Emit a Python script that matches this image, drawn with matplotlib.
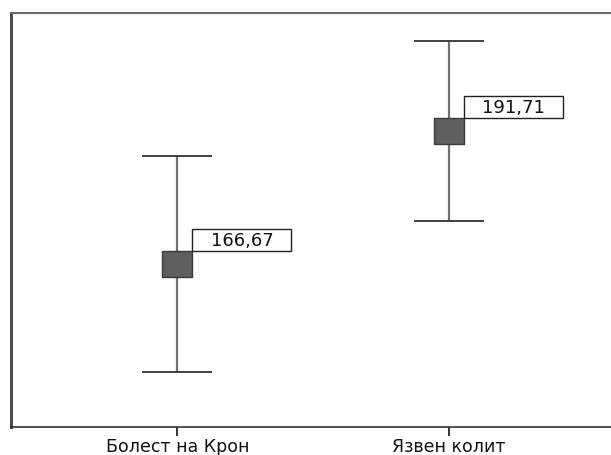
import matplotlib
matplotlib.use("Agg")
import matplotlib.pyplot as plt
from matplotlib.patches import Rectangle
from matplotlib.transforms import ScaledTranslation

# Group means with their 95% confidence limits
groups = ["Болест на Крон", "Язвен колит"]
means = [166.67, 191.71]
ci_low = [146.45, 174.80]
ci_high = [186.90, 208.50]
value_labels = ["166,67", "191,71"]

plt.rcParams["font.family"] = ["DejaVu Sans"]

DPI = 100
W, H = 611, 456
fig = plt.figure(figsize=(W / DPI, H / DPI), dpi=DPI)
ax = fig.add_axes([11 / W, 1 - 428 / H, (615.5 - 11) / W, (428 - 14) / H])

xs = list(range(len(groups)))
yerr = [[m - lo for m, lo in zip(means, ci_low)],
        [hi - m for m, hi in zip(means, ci_high)]]

eb = ax.errorbar(xs, means, yerr=yerr, fmt="none", ecolor="#707070",
                 elinewidth=1.6, capsize=25, capthick=1.3, zorder=2)
for cap in eb[1]:
    cap.set_markeredgecolor("#333333")
    cap.set_markerfacecolor("#333333")

# Rectangular mean marker (wider than tall)
box_marker = [(-1, -0.867), (1, -0.867), (1, 0.867), (-1, 0.867), (-1, -0.867)]
ax.plot(xs, means, linestyle="none", marker=box_marker, markersize=20.9,
        markerfacecolor="#5f5f5f", markeredgecolor="#3a3a3a",
        markeredgewidth=1.0, zorder=3)

# Boxed value labels anchored at the top-right corner of each marker
for i, (m, txt) in enumerate(zip(means, value_labels)):
    trans = fig.dpi_scale_trans + ScaledTranslation(i, m, ax.transData)
    bx, by, bw, bh = 0.15, 0.13, 0.99, 0.22
    ax.add_patch(Rectangle((bx, by), bw, bh, transform=trans,
                           facecolor="white", edgecolor="#222222",
                           linewidth=1.0, clip_on=False, zorder=4))
    ax.text(bx + bw / 2, by + bh / 2, txt, transform=trans,
            ha="center", va="center", fontsize=13, color="#111111",
            zorder=5)

ax.set_xlim(-0.613, 1.613)
ax.set_ylim(136.05, 213.8)
ax.set_yticks([])
ax.set_xticks(xs, groups)
ax.tick_params(axis="x", direction="out", length=6.5, width=1.4,
               color="#333333", pad=1, labelsize=12.5, labelcolor="#111111")

ax.spines["right"].set_visible(False)
ax.spines["left"].set_color("#4d4d4d")
ax.spines["left"].set_linewidth(2.2)
ax.spines["top"].set_color("#6a6a6a")
ax.spines["top"].set_linewidth(1.5)
ax.spines["bottom"].set_color("#333333")
ax.spines["bottom"].set_linewidth(1.2)

fig.savefig("out.png", dpi=DPI)
